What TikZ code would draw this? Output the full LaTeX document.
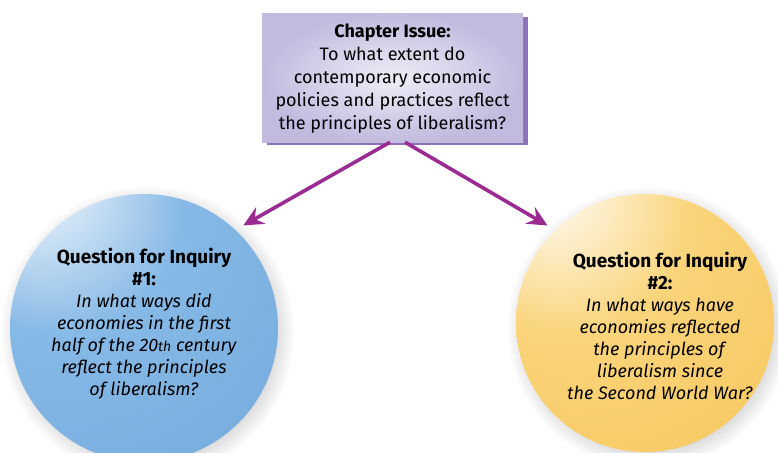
\documentclass[tikz,border=0pt]{standalone}
\usepackage{fontspec}
\setmainfont{Fira Sans}
\usetikzlibrary{shapes,arrows.meta,positioning,calc,shadows}

\definecolor{issuelight}{HTML}{EEEDF7}
\definecolor{issueface}{HTML}{C2BBDF}
\definecolor{issueedge}{HTML}{8C73B9}
\definecolor{linkpurple}{HTML}{9B2B93}
\definecolor{qblue}{HTML}{86B9E6}
\definecolor{qblueedge}{HTML}{6FA6DA}
\definecolor{qyellow}{HTML}{FAD47A}
\definecolor{qyellowedge}{HTML}{F5C455}

\pgfdeclareradialshading{blueglow}{\pgfpoint{-22bp}{30bp}}{color(0bp)=(white); color(24bp)=(qblue); color(62bp)=(qblueedge); color(100bp)=(qblueedge)}
\pgfdeclareradialshading{yellowglow}{\pgfpoint{-20bp}{28bp}}{color(0bp)=(white); color(24bp)=(qyellow); color(62bp)=(qyellowedge); color(100bp)=(qyellowedge)}

\newcommand{\qhead}[1]{{\fontsize{19}{22}\selectfont\bfseries #1}}

\tikzset{
  issuebox/.style={rectangle, minimum width=261pt, minimum height=128pt,
    shading=radial, inner color=issuelight, outer color=issueface,
    general shadow={fill=issueedge, shadow xshift=5pt, shadow yshift=-3pt}},
  inquiry/.style={circle, minimum size=#1, inner sep=0pt,
    circular drop shadow={shadow xshift=3pt, shadow yshift=-4pt, opacity=0.3}},
  qtext/.style={align=center, font=\fontsize{18}{22}\selectfont},
  link/.style={draw=linkpurple, line width=3.6pt,
    -{Stealth[length=20pt,width=19pt,inset=7pt]}, shorten >=9pt}
}

\begin{document}
\begin{tikzpicture}[x=1pt,y=-1pt]
\useasboundingbox (0,0) rectangle (778,452);
% chapter issue
\node[issuebox] (issue) at (392.5,78) {};
\node[align=center, font=\fontsize{18}{23}\selectfont] (issuetext) at ([yshift=-1pt]issue.center)
  {\textbf{Chapter Issue:}\\ To what extent do\\ contemporary economic\\
   policies and practices reflect\\ the principles of liberalism?};
% the two questions
\node[inquiry=268pt, shading=blueglow] (q1) at (144,328) {};
\node[inquiry=258pt, shading=yellowglow] (q2) at (645,323) {};
\node[qtext] (q1text) at ([yshift=4pt]q1.center)
  {\qhead{Question for Inquiry}\\ \qhead{\#1:}\\ \textit{In what ways did}\\
   \textit{economies in the first}\\ \textit{half of the 20{\fontsize{14}{22}\selectfont th} century}\\
   \textit{reflect the principles}\\ \textit{of liberalism?}};
\node[qtext] (q2text) at ([xshift=15pt,yshift=-3pt]q2.center)
  {\qhead{Question for Inquiry}\\ \qhead{\#2:}\\ \textit{In what ways have}\\
   \textit{economies reflected}\\ \textit{the principles of}\\
   \textit{liberalism since}\\ \textit{the Second World War?}};
% arrows
\draw[link] ([xshift=-2.5pt]issue.south) -- (q1.47);
\draw[link] ([xshift=12.5pt]issue.south) -- (q2.134);
\end{tikzpicture}
\end{document}
